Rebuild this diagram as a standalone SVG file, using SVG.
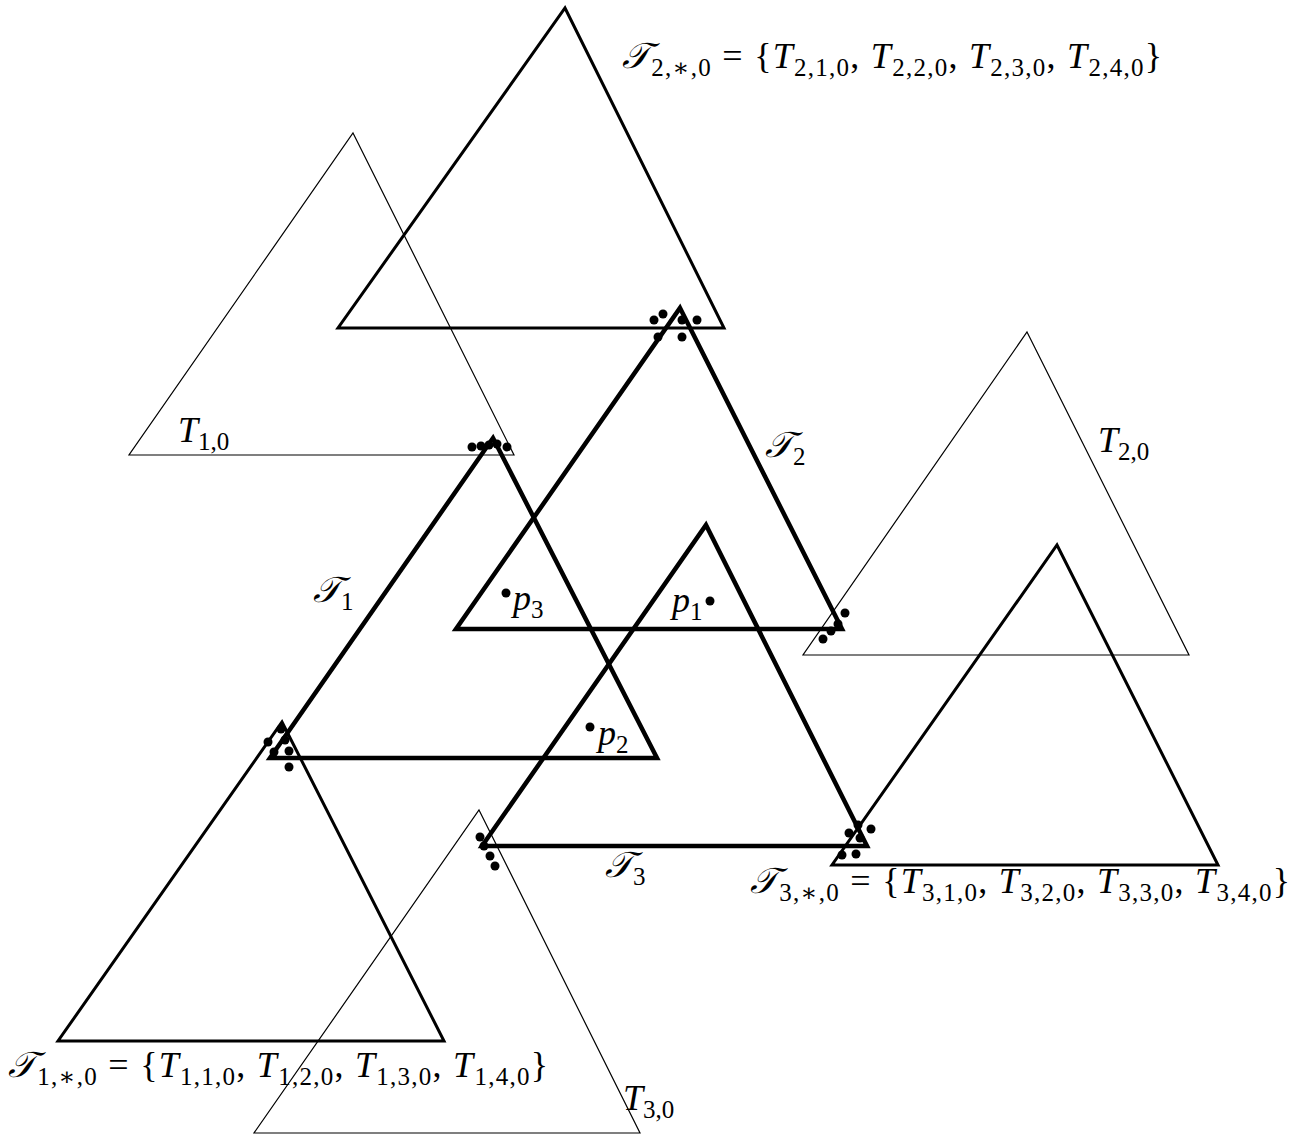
<svg xmlns="http://www.w3.org/2000/svg" width="1308" height="1135" viewBox="0 0 1308 1135">
<style>
.thin{fill:none;stroke:#000;stroke-width:1.2;stroke-linejoin:miter}
.med{fill:none;stroke:#000;stroke-width:3;stroke-linejoin:miter}
.thick{fill:none;stroke:#000;stroke-width:4.5;stroke-linejoin:miter}
.dot{fill:#000}
text{font-family:"Liberation Serif","DejaVu Serif",serif;font-size:36px;fill:#000}
.it{font-style:italic}
.cal{font-style:italic}
.sub{font-size:25px;font-style:normal}
</style>
<rect width="1308" height="1135" fill="#fff"/>
<g id="T10"><polygon class="thin" points="353,133 514,455 129,455"/></g>
<g id="T20"><polygon class="thin" points="1027,332 1189,655 803,655"/></g>
<g id="T30"><polygon class="thin" points="479,810 640,1133 254,1133"/></g>
<g id="T2star"><polygon class="med" points="565,8 724,328 338,328"/></g>
<g id="T1star"><polygon class="med" points="282,722 444,1041 58,1041"/></g>
<g id="T3star"><polygon class="med" points="1057,545 1218,865 832,865"/></g>
<g id="calT1"><polygon class="thick" points="493,438 657,758 270,758"/></g>
<g id="calT2"><polygon class="thick" points="680,308 842,629 456,629"/></g>
<g id="calT3"><polygon class="thick" points="706,525 867,846 482,846"/></g>
<g id="dots">
<circle class="dot" cx="654" cy="320" r="4.5"/><circle class="dot" cx="663" cy="314" r="4.5"/><circle class="dot" cx="682" cy="320" r="4.5"/><circle class="dot" cx="697" cy="320" r="4.5"/><circle class="dot" cx="658" cy="337" r="4.5"/><circle class="dot" cx="682" cy="337" r="4.5"/>
<circle class="dot" cx="472" cy="447" r="4.5"/><circle class="dot" cx="481" cy="446" r="4.5"/><circle class="dot" cx="489" cy="445" r="4.5"/><circle class="dot" cx="497" cy="444" r="4.5"/><circle class="dot" cx="507" cy="447" r="4.5"/>
<circle class="dot" cx="268" cy="742" r="4.5"/><circle class="dot" cx="281" cy="729" r="4.5"/><circle class="dot" cx="285" cy="740" r="4.5"/><circle class="dot" cx="274" cy="752" r="4.5"/><circle class="dot" cx="289" cy="751" r="4.5"/><circle class="dot" cx="289" cy="767" r="4.5"/>
<circle class="dot" cx="480" cy="837" r="4.5"/><circle class="dot" cx="484" cy="846" r="4.5"/><circle class="dot" cx="490" cy="856" r="4.5"/><circle class="dot" cx="495" cy="866" r="4.5"/>
<circle class="dot" cx="845" cy="613" r="4.5"/><circle class="dot" cx="838" cy="624" r="4.5"/><circle class="dot" cx="831" cy="631" r="4.5"/><circle class="dot" cx="823" cy="639" r="4.5"/>
<circle class="dot" cx="849" cy="833" r="4.5"/><circle class="dot" cx="858" cy="825" r="4.5"/><circle class="dot" cx="871" cy="829" r="4.5"/><circle class="dot" cx="860" cy="838" r="4.5"/><circle class="dot" cx="842" cy="855" r="4.5"/><circle class="dot" cx="856" cy="854" r="4.5"/>
<circle class="dot" cx="506" cy="593" r="4.5"/><circle class="dot" cx="710" cy="601" r="4.5"/><circle class="dot" cx="590" cy="727" r="4.5"/>
</g>
<g id="labels">
<text x="622" y="68" textLength="540" lengthAdjust="spacing"><tspan class="cal">𝒯</tspan><tspan class="sub" dy="8">2,∗,0</tspan><tspan dy="-8"> = {</tspan><tspan class="it">T</tspan><tspan class="sub" dy="8">2,1,0</tspan><tspan dy="-8">, </tspan><tspan class="it">T</tspan><tspan class="sub" dy="8">2,2,0</tspan><tspan dy="-8">, </tspan><tspan class="it">T</tspan><tspan class="sub" dy="8">2,3,0</tspan><tspan dy="-8">, </tspan><tspan class="it">T</tspan><tspan class="sub" dy="8">2,4,0</tspan><tspan dy="-8">}</tspan></text>
<text x="750" y="893" textLength="540" lengthAdjust="spacing"><tspan class="cal">𝒯</tspan><tspan class="sub" dy="8">3,∗,0</tspan><tspan dy="-8"> = {</tspan><tspan class="it">T</tspan><tspan class="sub" dy="8">3,1,0</tspan><tspan dy="-8">, </tspan><tspan class="it">T</tspan><tspan class="sub" dy="8">3,2,0</tspan><tspan dy="-8">, </tspan><tspan class="it">T</tspan><tspan class="sub" dy="8">3,3,0</tspan><tspan dy="-8">, </tspan><tspan class="it">T</tspan><tspan class="sub" dy="8">3,4,0</tspan><tspan dy="-8">}</tspan></text>
<text x="8" y="1077" textLength="540" lengthAdjust="spacing"><tspan class="cal">𝒯</tspan><tspan class="sub" dy="8">1,∗,0</tspan><tspan dy="-8"> = {</tspan><tspan class="it">T</tspan><tspan class="sub" dy="8">1,1,0</tspan><tspan dy="-8">, </tspan><tspan class="it">T</tspan><tspan class="sub" dy="8">1,2,0</tspan><tspan dy="-8">, </tspan><tspan class="it">T</tspan><tspan class="sub" dy="8">1,3,0</tspan><tspan dy="-8">, </tspan><tspan class="it">T</tspan><tspan class="sub" dy="8">1,4,0</tspan><tspan dy="-8">}</tspan></text>
<text x="178" y="442"><tspan class="it">T</tspan><tspan class="sub" dy="8">1,0</tspan></text>
<text x="1098" y="452"><tspan class="it">T</tspan><tspan class="sub" dy="8">2,0</tspan></text>
<text x="623" y="1110"><tspan class="it">T</tspan><tspan class="sub" dy="8">3,0</tspan></text>
<text x="313" y="602"><tspan class="cal">𝒯</tspan><tspan class="sub" dy="8">1</tspan></text>
<text x="765" y="457"><tspan class="cal">𝒯</tspan><tspan class="sub" dy="8">2</tspan></text>
<text x="605" y="877"><tspan class="cal">𝒯</tspan><tspan class="sub" dy="8">3</tspan></text>
<text x="513" y="610"><tspan class="it">p</tspan><tspan class="sub" dy="8">3</tspan></text>
<text x="672" y="612"><tspan class="it">p</tspan><tspan class="sub" dy="8">1</tspan></text>
<text x="598" y="745"><tspan class="it">p</tspan><tspan class="sub" dy="8">2</tspan></text>
</g>
</svg>
